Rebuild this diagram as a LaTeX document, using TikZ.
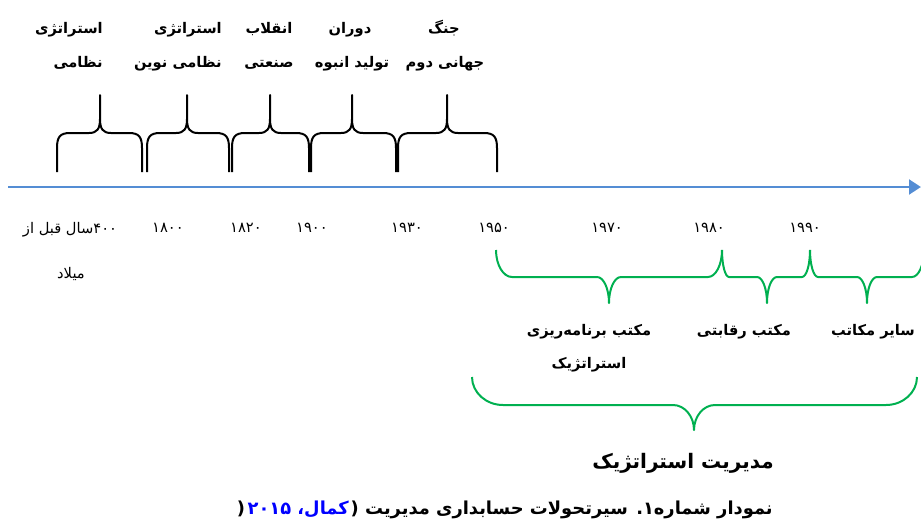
\documentclass[tikz,border=0pt]{standalone}
\usepackage{fontspec}
\usepackage{xcolor}
\usetikzlibrary{arrows.meta}
\newfontfamily\fa[Script=Arabic]{DejaVu Sans}
\TeXXeTstate=1
\definecolor{axisblue}{RGB}{84,141,212}
\definecolor{bracegreen}{RGB}{0,176,80}
\definecolor{citeblue}{RGB}{0,0,255}
\newcommand\upbrace[3]{%
  \draw[blackbrace] (#1,172) -- (#1,148) .. controls (#1,137) and ({#1+3},133) .. ({#1+13},133)
    -- ({#2-11},133) .. controls ({#2-3},133) and (#2,129) .. (#2,119) -- (#2,95)
    -- (#2,119) .. controls (#2,129) and ({#2+3},133) .. ({#2+11},133)
    -- ({#3-13},133) .. controls ({#3-3},133) and (#3,137) .. (#3,148) -- (#3,172);}
\newcommand\dnbrace[9]{%
  \draw[greenbrace] (#1,#4) .. controls (#1,{#4+0.55*(#5-#4)}) and ({#1+0.45*#7},#5) .. ({#1+#7},#5)
    -- ({#2-#9},#5) .. controls ({#2-0.45*#9},#5) and (#2,{#5+0.45*(#6-#5)}) .. (#2,#6)
    .. controls (#2,{#5+0.45*(#6-#5)}) and ({#2+0.45*#9},#5) .. ({#2+#9},#5)
    -- ({#3-#8},#5) .. controls ({#3-0.45*#8},#5) and (#3,{#4+0.55*(#5-#4)}) .. (#3,#4);}
\begin{document}
\begin{tikzpicture}[x=0.75pt,y=-0.75pt,
  lab/.style={font=\fa\bfseries\fontsize{11}{13}\selectfont, inner sep=0pt, anchor=base},
  labr/.style={lab, anchor=base east},
  big/.style={font=\fa\bfseries\fontsize{15}{18}\selectfont, inner sep=0pt, anchor=base},
  captxt/.style={font=\fa\bfseries\fontsize{13.4}{16}\selectfont, inner sep=0pt, anchor=base east},
  yr/.style={font=\fa\fontsize{11}{13}\selectfont, inner sep=0pt, anchor=base},
  blackbrace/.style={draw=black, line width=1.5pt, line join=round},
  greenbrace/.style={draw=bracegreen, line width=1.5pt, line join=round},
  axis/.style={draw=axisblue, line width=2.2pt, -{Triangle[length=9pt,width=11pt]}}]
\useasboundingbox (0,0) rectangle (921,525);
% axis
\coordinate (axL) at (8,187);
\coordinate (axR) at (921,187);
\draw[axis] (axL) -- (axR);
% black braces
\upbrace{57}{100}{142}
\upbrace{147}{187}{229}
\upbrace{232}{270}{309}
\upbrace{311}{352}{396}
\upbrace{398}{447}{497}
% top labels
\node[labr] (t1a) at (103,33) {\beginR استراتژی\endR};
\node[labr] (t1b) at (103,67) {\beginR نظامی\endR};
\node[labr] (t2a) at (222,33) {\beginR استراتژی\endR};
\node[labr] (t2b) at (222,67) {\beginR نظامی نوین\endR};
\node[lab] (t3a) at (269,33) {\beginR انقلاب\endR};
\node[lab] (t3b) at (269,67) {\beginR صنعتی\endR};
\node[lab] (t4a) at (350,33) {\beginR دوران\endR};
\node[lab] (t4b) at (352,67) {\beginR تولید انبوه\endR};
\node[lab] (t5a) at (444,33) {\beginR جنگ\endR};
\node[lab] (t5b) at (445,67) {\beginR جهانی دوم\endR};
% years
\node[yr] (y400a) at (70,233) {\beginR ۴۰۰\kern0pt سال قبل از\endR};
\node[yr] (y400b) at (71,278) {\beginR میلاد\endR};
\node[yr] (y1800) at (168,232) {۱۸۰۰};
\node[yr] (y1820) at (246,232) {۱۸۲۰};
\node[yr] (y1900) at (312,232) {۱۹۰۰};
\node[yr] (y1930) at (407,232) {۱۹۳۰};
\node[yr] (y1950) at (494,232) {۱۹۵۰};
\node[yr] (y1970) at (607,232) {۱۹۷۰};
\node[yr] (y1980) at (709,232) {۱۹۸۰};
\node[yr] (y1990) at (805,232) {۱۹۹۰};
% green braces
\dnbrace{496}{609}{722}{250}{277}{303}{16}{14}{12}
\dnbrace{722}{767}{810}{250}{277}{303}{7}{8}{10}
\dnbrace{810}{867}{924}{250}{277}{303}{8}{12}{10}
\dnbrace{472}{694}{917}{377}{405}{430}{31}{31}{21}
% bottom labels
\node[lab] (b1a) at (589,335) {\beginR مکتب برنامه^^^^200cریزی\endR};
\node[lab] (b1b) at (589,368) {\beginR استراتژیک\endR};
\node[lab] (b2) at (744,335) {\beginR مکتب رقابتی\endR};
\node[lab] (b3) at (873,335) {\beginR سایر مکاتب\endR};
\node[big] (bm) at (683,468) {\beginR مدیریت استراتژیک\endR};
% caption
\node[captxt] (cap1) at (773,514) {\beginR نمودار شماره۱. سیرتحولات حسابداری مدیریت (^^^^200f\endR};
\node[captxt, text=citeblue] (cap2) at ([xshift=-1pt]cap1.base west) {\beginR کمال، ۲۰۱۵\endR};
\node[captxt] (cap3) at ([xshift=-1.5pt]cap2.base west) {(};
\end{tikzpicture}
\end{document}
